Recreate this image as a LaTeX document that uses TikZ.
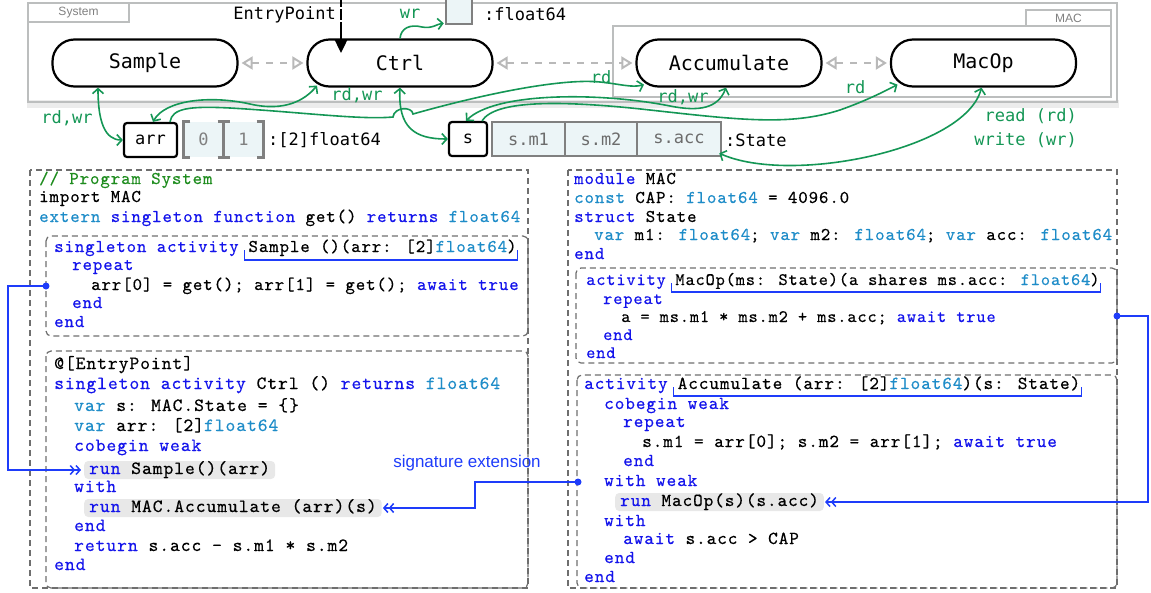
\documentclass[tikz,border=0pt]{standalone}
\usepackage{fontspec}
\usetikzlibrary{arrows.meta}
\newfontfamily\codefont[LetterSpace=5.0,FakeBold=0.4]{lmmono10-regular.otf}
\newfontfamily\dvm{DejaVu Sans Mono}
\newfontfamily\sansf{Liberation Sans}
\definecolor{kwc}{RGB}{20,20,235}
\definecolor{tyc}{RGB}{30,140,200}
\definecolor{cmc}{RGB}{30,140,30}
\definecolor{grn}{RGB}{20,150,85}
\definecolor{blu}{RGB}{30,60,250}
\definecolor{frg}{RGB}{188,190,190}
\definecolor{cellf}{RGB}{236,245,247}
\definecolor{cellb}{RGB}{128,128,128}
\definecolor{hlc}{RGB}{232,232,232}
\definecolor{dsh}{RGB}{110,110,110}
\newcommand\kw[1]{\textcolor{kwc}{#1}}
\newcommand\ty[1]{\textcolor{tyc}{#1}}
\newcommand\cmt[1]{\textcolor{cmc}{#1}}
\begin{document}
\begin{tikzpicture}[x=1pt,y=-1pt,
  proc/.style={draw, fill=white, line width=2.2pt, rounded corners=22pt, minimum width=185pt, minimum height=47pt, inner sep=0pt, font=\dvm\fontsize{20}{24}\selectfont},
  frame/.style={draw=frg, line width=2.6pt},
  tagbox/.style={draw=frg, line width=2pt, fill=white, inner sep=0pt, text=gray, font=\sansf\fontsize{12}{14}\selectfont},
  lbl/.style={inner sep=0pt, font=\dvm\fontsize{17}{20}\selectfont},
  glbl/.style={lbl, text=grn},
  vbox/.style={lbl, draw, fill=white, line width=2.2pt, rounded corners=3pt, minimum height=34pt},
  cellA/.style={lbl, fill=cellf, text=gray, minimum width=40pt, minimum height=35pt},
  cellB/.style={lbl, draw=cellb, line width=2.5pt, fill=cellf, text=gray!85!black, minimum height=34pt},
  brk/.style={draw=cellb, line width=3pt},
  dep/.style={draw=gray!55, line width=2pt, dash pattern=on 7pt off 7pt, {Triangle[open,length=11pt,width=13pt]}-{Triangle[open,length=11pt,width=13pt]}, shorten <=3pt, shorten >=3pt},
  link/.style={draw=grn, line width=1.6pt},
  gboth/.style={link, {Straight Barb[length=5pt,width=11pt]}-{Straight Barb[length=5pt,width=11pt]}},
  gone/.style={link, -{Straight Barb[length=5pt,width=11pt]}},
  sigarr/.style={draw=blu, line width=1.5pt, -{Straight Barb[length=4pt,width=9pt] Straight Barb[length=4pt,width=9pt]}},
  sigbr/.style={draw=blu, line width=1.2pt},
  dbox/.style={draw=dsh, line width=1.2pt, dash pattern=on 6pt off 4pt},
  cl/.style={anchor=west, inner sep=0pt, text height=11pt, text depth=3pt, font=\codefont\fontsize{#1}{20}\selectfont},
  cl/.default=18,
  sg/.style={cl=#1, anchor=base west, xshift=0.525*#1*1pt},
  hl/.style={cl=#1, fill=hlc, rounded corners=4pt, inner xsep=5pt, inner ysep=2pt}
]
\useasboundingbox (0,0) rectangle (1151,592);

% ---------- top frames ----------
\fill[gray!15] (27,100) rectangle (1119,108);
\draw[frame] (28,3) rectangle (1117,102);
\node[tagbox, minimum width=101pt, minimum height=19pt] (syslbl) at (78.5,12.5) {System};
\draw[frame] (613,26) rectangle (1111,97);
\node[tagbox, minimum width=85pt, minimum height=16pt] (maclbl) at (1068.5,18) {MAC};

% ---------- activity nodes ----------
\node[proc] (Sample) at (145,63) {Sample};
\node[proc] (Ctrl) at (400,63) {Ctrl};
\node[proc] (Acc) at (729,63) {Accumulate};
\node[proc] (MacOp) at (983.5,63) {MacOp};

\draw[dep] (Sample.east) -- (Ctrl.west);
\draw[dep] (Ctrl.east) -- (Acc.west);
\draw[dep] (Acc.east) -- (MacOp.west);

% entry point
\node[lbl, anchor=east] (eplbl) at (336,15) {EntryPoint};
\coordinate (eptop) at (341,-1);
\coordinate (eptip) at (341,53);
\draw[line width=2.4pt, dash pattern=on 8pt off 2pt on 11pt off 2pt on 200pt, -{Triangle[length=13pt,width=12pt]}] (eptop) -- (eptip);

% float box
\node[cellB, minimum width=26pt, minimum height=27pt] (fbox) at (459,10.5) {};
\node[lbl, anchor=west] (ftype) at (484,14) {:float64};
\draw[gone] (Ctrl.north) .. controls (401,28) and (410,24) .. (422,27) .. controls (432,29) and (437,24) .. ([xshift=-1pt,yshift=2pt]fbox.south west);
\node[glbl] (wrl) at (410,14) {wr};

% arr row
\node[vbox, minimum width=53pt] (arr) at (150.5,140) {arr};
\node[cellA] (c0) at (203.5,139.5) {0};
\node[cellA] (c1) at (243.5,139.5) {1};
\draw[brk] ([xshift=7pt]c0.north west) -- (c0.north west) -- (c0.south west) -- ([xshift=7pt]c0.south west);
\draw[brk] ([xshift=-6pt]c0.north east) -- ([xshift=6pt]c0.north east) (c0.north east) -- (c0.south east) ([xshift=-6pt]c0.south east) -- ([xshift=6pt]c0.south east);
\draw[brk] ([xshift=-7pt]c1.north east) -- (c1.north east) -- (c1.south east) -- ([xshift=-7pt]c1.south east);
\node[lbl, anchor=west] (arrty) at (268,140) {:[2]float64};

% s row
\node[vbox, minimum width=38pt] (s) at (468,139) {s};
\node[cellB, minimum width=73pt] (sm1) at (528.5,139) {s.m1};
\node[cellB, minimum width=72pt] (sm2) at (601,139) {s.m2};
\node[cellB, minimum width=84pt] (sacc) at (679,139) {s.acc};
\node[lbl, anchor=west] (sty) at (725,140) {:State};

% green access links
\draw[gboth] ([xshift=-47pt]Sample.south) .. controls +(0,34) and +(-18,0) .. (arr.west);
\node[glbl] (l1) at (67,118) {rd,wr};
\draw[gboth] ([xshift=2.5pt]arr.north) .. controls (165,100) and (210,95) .. (250,104) .. controls (285,112) and (305,100) .. ([xshift=-83pt,yshift=2pt]Ctrl.south);
\node[glbl] (l2) at (357,95) {rd,wr};
\draw[gboth] (Ctrl.south) .. controls (398,128) and (415,139) .. (s.west);
\draw[gone] ([xshift=19.5pt]arr.north) .. controls (172,108) and (190,106) .. (230,108) .. controls (300,112) and (360,120) .. (393,117) .. controls (394,107) and (412,106) .. (413,114) .. controls (480,95) and (560,78) .. (600,82) .. controls (620,84) and (632,88) .. ([xshift=-85pt,yshift=3pt]Acc.south);
\node[glbl] (l3) at (601,77) {rd};
\draw[gboth] ([xshift=-2pt]s.north) .. controls (495,92) and (600,92) .. (670,106) .. controls (700,112) and (718,108) .. ([xshift=-3pt]Acc.south);
\node[glbl] (l4) at (683,97) {rd,wr};
\draw[gone] ([xshift=14pt]s.north) .. controls (495,100) and (560,100) .. (650,110) .. controls (740,120) and (790,126) .. (840,110) .. controls (868,100) and (885,91) .. ([xshift=-86pt,yshift=3pt]MacOp.south);
\node[glbl] (l5) at (855,87) {rd};
\draw[gboth] ([xshift=-2pt]MacOp.south) .. controls (965,150) and (790,185) .. ([xshift=-3pt,yshift=4pt]sacc.south east);
\node[glbl, anchor=east] (lg1) at (1077,116) {read (rd)};
\node[glbl, anchor=east] (lg2) at (1077,140) {write (wr)};

% ---------- code boxes ----------
\draw[dbox] (30,170) rectangle (528,588);
\draw[dbox, rounded corners=5pt] (46,236) rectangle (528,336);
\draw[dbox, rounded corners=5pt] (46,351) rectangle (528,588);
\draw[dbox] (568,170) rectangle (1117,588);
\draw[dbox, rounded corners=5pt] (576,268) rectangle (1117,363);
\draw[dbox, rounded corners=5pt] (577,375) rectangle (1117,588);

% left code
\node[cl] (L1) at (39,180) {\cmt{// Program System}};
\node[cl] (L2) at (39,198) {import MAC};
\node[cl] (L3) at (39,218) {\ty{extern} \kw{singleton} \kw{function} get() \kw{returns} \ty{float64}};
\node[cl] (L4a) at (54,248) {\kw{singleton} \kw{activity}};
\node[sg=18] (L4b) at (L4a.base east) {Sample ()(arr: [2]\ty{float64})};
\draw[sigbr] ([xshift=-4pt,yshift=2pt]L4b.base west) -- ([xshift=-4pt,yshift=-8pt]L4b.base west) -- ([xshift=1pt,yshift=-8pt]L4b.base east) -- ([xshift=1pt,yshift=2pt]L4b.base east);
\node[cl] (L5) at (72,266) {\kw{repeat}};
\node[cl] (L6) at (91,286) {arr[0] = get(); arr[1] = get(); \kw{await} \kw{true}};
\node[cl] (L7) at (72,304) {\kw{end}};
\node[cl] (L8) at (54,323) {\kw{end}};
\node[cl=18.7] (L9) at (54,365) {@[EntryPoint]};
\node[cl=18.7] (L10) at (54,385) {\kw{singleton} \kw{activity} Ctrl () \kw{returns} \ty{float64}};
\node[cl=18.7] (L11) at (74,407) {\ty{var} s: MAC.State = \{\}};
\node[cl=18.7] (L12) at (74,427) {\ty{var} arr: [2]\ty{float64}};
\node[cl=18.7] (L13) at (74,447) {\kw{cobegin} \kw{weak}};
\node[hl=18.7] (runS) at (84,470) {\kw{run} Sample()(arr)};
\node[cl=18.7] (L15) at (74,488) {\kw{with}};
\node[hl=18.7] (runM) at (84,508) {\kw{run} MAC.Accumulate (arr)(s)};
\node[cl=18.7] (L17) at (74,527) {\kw{end}};
\node[cl=18.7] (L18) at (74,547) {\kw{return} s.acc - s.m1 * s.m2};
\node[cl=18.7] (L19) at (54,566) {\kw{end}};

% right code
\node[cl] (R1) at (574,180) {\kw{module} MAC};
\node[cl] (R2) at (574,199) {\ty{const} CAP: \ty{float64} = 4096.0};
\node[cl] (R3) at (574,218) {\kw{struct} State};
\node[cl] (R4) at (594,236) {\ty{var} m1: \ty{float64}; \ty{var} m2: \ty{float64}; \ty{var} acc: \ty{float64}};
\node[cl] (R5) at (574,255) {\kw{end}};
\node[cl=17.5] (R6a) at (586,281) {\kw{activity}};
\node[sg=17.5] (R6b) at (R6a.base east) {MacOp(ms: State)(a shares ms.acc: \ty{float64})};
\draw[sigbr] ([xshift=-4pt,yshift=2pt]R6b.base west) -- ([xshift=-4pt,yshift=-7pt]R6b.base west) -- ([xshift=1pt,yshift=-7pt]R6b.base east) -- ([xshift=1pt,yshift=2pt]R6b.base east);
\node[cl=17.5] (R7) at (603,300) {\kw{repeat}};
\node[cl=17.5] (R8) at (621,318) {a = ms.m1 * ms.m2 + ms.acc; \kw{await} \kw{true}};
\node[cl=17.5] (R9) at (603,336) {\kw{end}};
\node[cl=17.5] (R10) at (586,354) {\kw{end}};
\node[cl=18.35] (R11a) at (584,385) {\kw{activity}};
\node[sg=18.35] (R11b) at (R11a.base east) {Accumulate (arr: [2]\ty{float64})(s: State)};
\draw[sigbr] ([xshift=-4pt,yshift=2pt]R11b.base west) -- ([xshift=-4pt,yshift=-7pt]R11b.base west) -- ([xshift=1pt,yshift=-7pt]R11b.base east) -- ([xshift=1pt,yshift=2pt]R11b.base east);
\node[cl=18.35] (R12) at (604,405) {\kw{cobegin} \kw{weak}};
\node[cl=18.35] (R13) at (623,423) {\kw{repeat}};
\node[cl=18.35] (R14) at (642,443) {s.m1 = arr[0]; s.m2 = arr[1]; \kw{await} \kw{true}};
\node[cl=18.35] (R15) at (623,462) {\kw{end}};
\node[cl=18.35] (R16) at (604,482) {\kw{with} \kw{weak}};
\node[hl=18.35] (runMO) at (615,502) {\kw{run} MacOp(s)(s.acc)};
\node[cl=18.35] (R18) at (604,522) {\kw{with}};
\node[cl=18.35] (R19) at (623,540) {\kw{await} s.acc > CAP};
\node[cl=18.35] (R20) at (604,559) {\kw{end}};
\node[cl=18.35] (R21) at (584,578) {\kw{end}};

% ---------- blue signature links ----------
\coordinate (d1) at (46,286);
\coordinate (d2) at (578,482);
\coordinate (d3) at (1117,316);
\draw[sigarr, shorten >=3pt] (d1) -- ++(-38,0) |- (runS.west);
\draw[sigarr, shorten >=1pt] (d2) -- ++(-103,0) |- (runM.east);
\draw[sigarr, shorten >=1pt] (d3) -- ++(31,0) |- (runMO.east);
\fill[blu] (d1) circle[radius=3.5pt];
\fill[blu] (d2) circle[radius=3.5pt];
\fill[blu] (d3) circle[radius=3.5pt];
\node[font=\sansf\fontsize{17}{20}\selectfont, text=blu, inner sep=0pt] (sigext) at (467,463) {signature extension};
\end{tikzpicture}
\end{document}
